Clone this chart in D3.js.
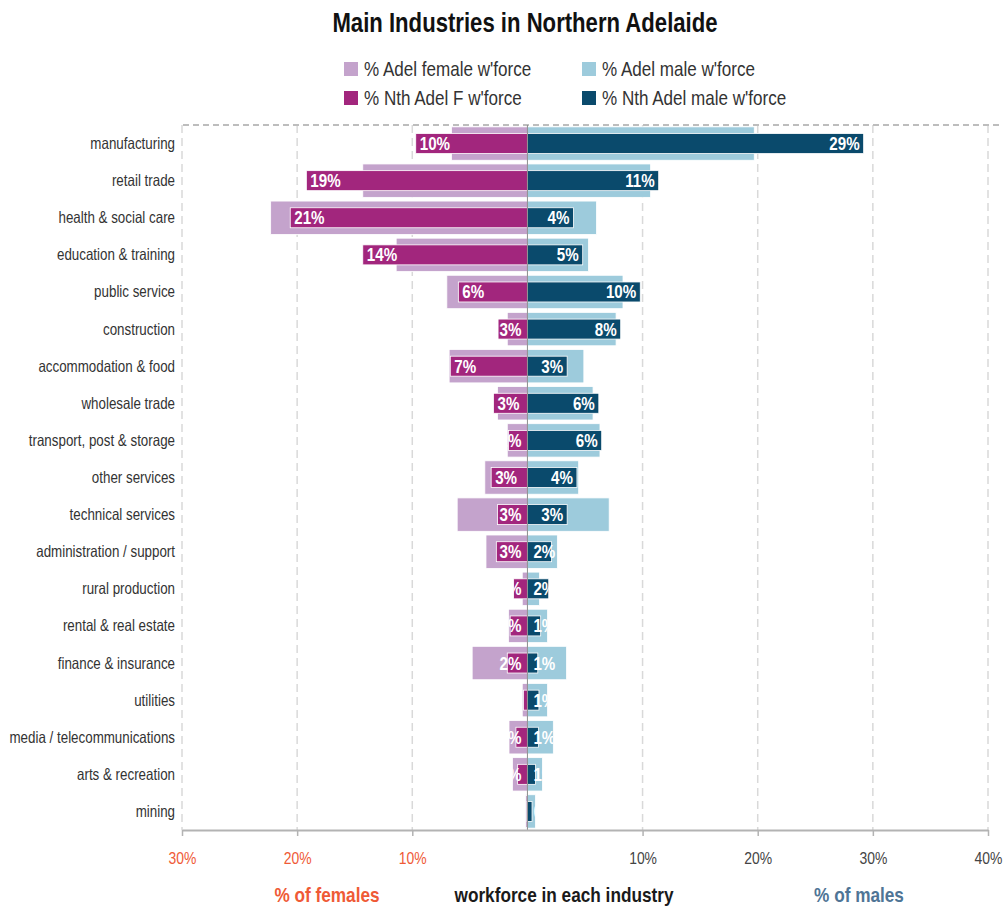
<!doctype html>
<html>
<head>
<meta charset="UTF-8">
<title>Main Industries in Northern Adelaide</title>
<script src="https://cdn.jsdelivr.net/npm/d3@7"></script>
<style>
  body { margin: 0; background: #fff; }
  svg text { font-family: "Liberation Sans", Arial, sans-serif; }
</style>
</head>
<body>
<svg id="chart" width="1004" height="909"></svg>
<script>
// data (percent of workforce)
var industries = ["manufacturing", "retail trade", "health & social care", "education & training",
  "public service", "construction", "accommodation & food", "wholesale trade",
  "transport, post & storage", "other services", "technical services", "administration / support",
  "rural production", "rental & real estate", "finance & insurance", "utilities",
  "media / telecommunications", "arts & recreation", "mining"];
var adelFemale = [6.6, 14.3, 22.3, 11.4, 7.0, 1.75, 6.8, 2.6, 1.75, 3.7, 6.1, 3.6, 0.45, 1.65, 4.8, 0.45, 1.6, 1.3, 0.15];
var adelMale   = [19.7, 10.7, 6.0, 5.3, 8.3, 7.7, 4.9, 5.7, 6.3, 4.45, 7.1, 2.6, 1.05, 1.75, 3.4, 1.75, 2.25, 1.3, 0.7];
var nthFemale  = [9.7, 19.2, 20.6, 14.3, 6.0, 2.55, 6.7, 2.95, 1.65, 3.15, 2.6, 2.7, 1.2, 1.5, 1.75, 0.35, 1.0, 0.85, 0.05];
var nthMale    = [29.2, 11.4, 4.0, 4.8, 9.8, 8.1, 3.45, 6.2, 6.45, 4.3, 3.45, 2.1, 1.85, 1.15, 0.9, 1.0, 0.95, 0.7, 0.4];
var tickVals   = [-30, -20, -10, 10, 20, 30, 40];

var colLightF = "#c4a3cc", colDarkF = "#a2267d", colLightM = "#9dcbdc", colDarkM = "#0a4a6c";
var NARROW = 0.82;   // squeeze Liberation Sans to look like Arial Narrow

var svg = d3.select("#chart");
var x = d3.scaleLinear().domain([-30, 40]).range([182, 988]);
var y = d3.scaleBand().domain(industries).range([125, 830]).paddingInner(0.1).paddingOuter(0.05);
var x0 = x(0);

function place(xx, yy) { return "translate(" + xx + "," + yy + ") scale(" + NARROW + ",1)"; }

// title
svg.append("text").attr("transform", place(525, 32)).attr("text-anchor", "middle")
  .style("font-size", "27px").style("font-weight", "bold").attr("fill", "#111")
  .text("Main Industries in Northern Adelaide");

// legend
var legend = [
  {t: "% Adel female w'force", c: colLightF, x: 344, y: 69},
  {t: "% Adel male w'force", c: colLightM, x: 582, y: 69},
  {t: "% Nth Adel F w'force", c: colDarkF, x: 344, y: 98},
  {t: "% Nth Adel male w'force", c: colDarkM, x: 582, y: 98}
];
var lg = svg.selectAll(".lg").data(legend).enter().append("g").attr("class", "lg");
lg.append("rect").attr("x", d => d.x).attr("y", d => d.y - 7).attr("width", 14).attr("height", 14).attr("fill", d => d.c);
lg.append("text").attr("transform", d => place(d.x + 20, d.y + 7)).style("font-size", "20.8px").attr("fill", "#333").text(d => d.t);

// grid
svg.selectAll(".grid").data(tickVals).enter().append("line")
  .attr("x1", d => x(d)).attr("x2", d => x(d)).attr("y1", 125).attr("y2", 830)
  .attr("stroke", "#d9d9d9").attr("stroke-width", 1.5).attr("stroke-dasharray", "8,5");
svg.append("line").attr("x1", 183).attr("x2", 1000).attr("y1", 125).attr("y2", 125)
  .attr("stroke", "#bdbdbd").attr("stroke-width", 2).attr("stroke-dasharray", "6,4");

var rows = industries.map(function(d, i) {
  return {name: d, af: adelFemale[i], am: adelMale[i], nf: nthFemale[i], nm: nthMale[i], i: i};
});

var lightH = y.bandwidth(), darkH = 20;
var g = svg.selectAll(".row").data(rows).enter().append("g").attr("class", "row");

g.append("rect").attr("x", d => x(-d.af)).attr("width", d => x0 - x(-d.af))
  .attr("y", d => y(d.name)).attr("height", lightH).attr("fill", colLightF).attr("stroke", "#fff").attr("stroke-width", 0.8);
g.append("rect").attr("x", x0).attr("width", d => x(d.am) - x0)
  .attr("y", d => y(d.name)).attr("height", lightH).attr("fill", colLightM).attr("stroke", "#fff").attr("stroke-width", 0.8);
g.append("rect").attr("x", d => x(-d.nf)).attr("width", d => x0 - x(-d.nf))
  .attr("y", d => y(d.name) + (lightH - darkH) / 2).attr("height", darkH).attr("fill", colDarkF).attr("stroke", "#fff").attr("stroke-width", 0.8);
g.append("rect").attr("x", x0).attr("width", d => x(d.nm) - x0)
  .attr("y", d => y(d.name) + (lightH - darkH) / 2).attr("height", darkH).attr("fill", colDarkM).attr("stroke", "#fff").attr("stroke-width", 0.8);

// clip the value labels to the coloured bars, like white text that vanishes on white
var defs = svg.append("defs");
rows.forEach(function(d) {
  var cf = defs.append("clipPath").attr("id", "cf" + d.i);
  cf.append("rect").attr("x", x(-d.af)).attr("width", x0 - x(-d.af)).attr("y", y(d.name)).attr("height", lightH);
  cf.append("rect").attr("x", x(-d.nf)).attr("width", x0 - x(-d.nf)).attr("y", y(d.name) + (lightH - darkH) / 2).attr("height", darkH);
  var cm = defs.append("clipPath").attr("id", "cm" + d.i);
  cm.append("rect").attr("x", x0).attr("width", x(d.am) - x0).attr("y", y(d.name)).attr("height", lightH);
  cm.append("rect").attr("x", x0).attr("width", x(d.nm) - x0).attr("y", y(d.name) + (lightH - darkH) / 2).attr("height", darkH);
});

var fmt = d => Math.round(d) + "%";
g.append("g").attr("clip-path", d => "url(#cf" + d.i + ")").append("text")
  .style("font-size", "18.5px").style("font-weight", "bold").attr("fill", "#fff").text(d => fmt(d.nf))
  .attr("transform", function(d) {
    var w = this.getComputedTextLength() * NARROW;
    return place(Math.min(x(-d.nf) + 4, x0 - 6 - w), y(d.name) + lightH / 2 + 6.5);
  });
g.append("g").attr("clip-path", d => "url(#cm" + d.i + ")").append("text")
  .style("font-size", "18.5px").style("font-weight", "bold").attr("fill", "#fff").text(d => fmt(d.nm))
  .attr("transform", function(d) {
    var w = this.getComputedTextLength() * NARROW;
    return place(Math.max(x(d.nm) - 4 - w, x0 + 6), y(d.name) + lightH / 2 + 6.5);
  });

// centre line
svg.append("line").attr("x1", x0).attr("x2", x0).attr("y1", 125).attr("y2", 830).attr("stroke", "#8c8c8c").attr("stroke-width", 1);

// category labels
svg.selectAll(".cat").data(industries).enter().append("text")
  .attr("transform", d => place(175, y(d) + y.bandwidth() / 2 + 5.5)).attr("text-anchor", "end")
  .style("font-size", "16.3px").attr("fill", "#333").text(d => d);

// x axis
var axis = svg.append("g").attr("transform", "translate(0,830)")
  .call(d3.axisBottom(x).tickValues(tickVals).tickSizeInner(6).tickSizeOuter(0)
    .tickFormat(d => Math.abs(d) + "%"));
axis.select(".domain").attr("stroke", "#b3b3b3").attr("stroke-width", 2);
axis.selectAll(".tick line").attr("stroke", "#b3b3b3").attr("stroke-width", 1.5);
axis.selectAll(".tick text").attr("y", 28).attr("dy", "0.35em").attr("transform", "scale(" + NARROW + ",1)")
  .style("font-size", "17px").style("font-family", "'Liberation Sans', Arial, sans-serif")
  .attr("fill", d => d < 0 ? "#ef5a36" : "#444");

// bottom captions
var caps = [
  {t: "% of females", x: 327, c: "#ef5a36"},
  {t: "workforce in each industry", x: 564, c: "#1a1a1a"},
  {t: "% of males", x: 859, c: "#4f7596"}
];
svg.selectAll(".cap").data(caps).enter().append("text")
  .attr("transform", d => place(d.x, 902)).attr("text-anchor", "middle")
  .style("font-size", "21px").style("font-weight", "bold").attr("fill", d => d.c).text(d => d.t);
</script>
</body>
</html>
